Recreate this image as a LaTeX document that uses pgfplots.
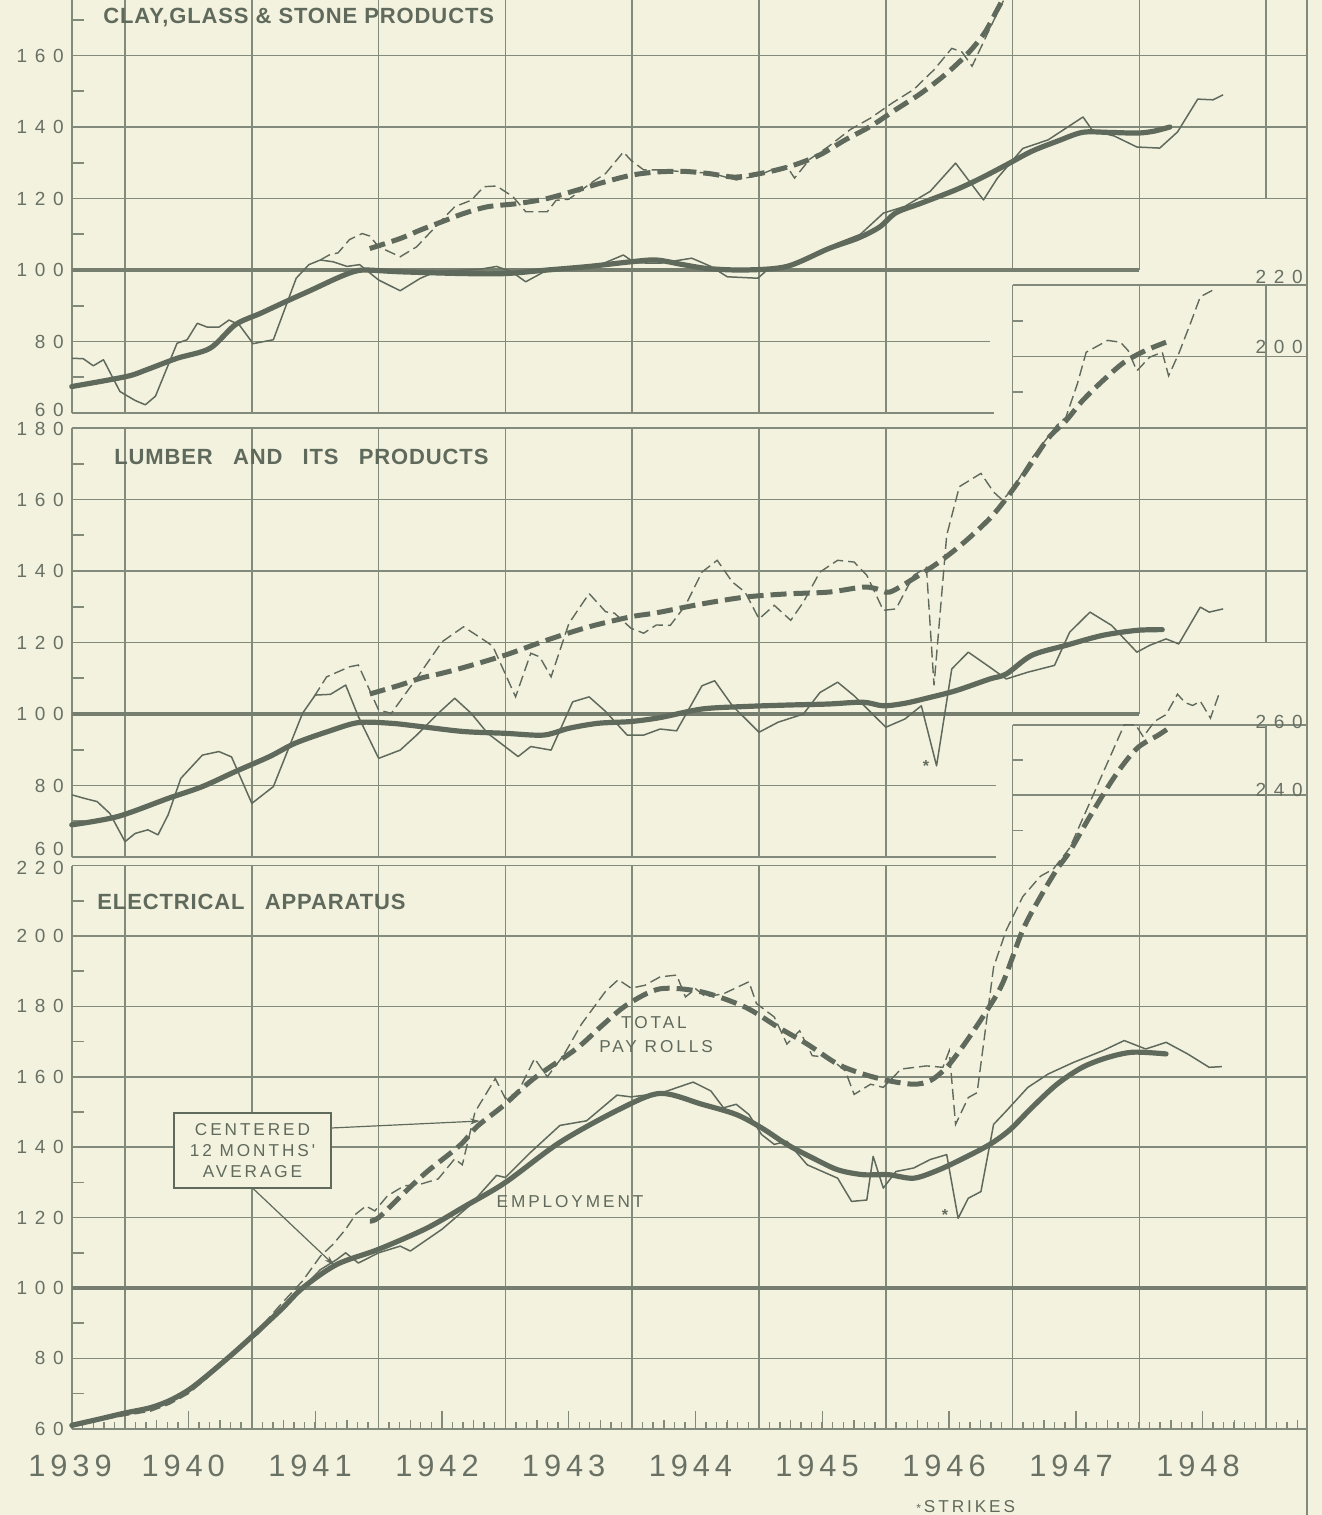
\documentclass[border=0pt]{standalone}
\usepackage{pgfplots}
\pgfplotsset{compat=1.18}
\usetikzlibrary{arrows.meta}
\usepackage{fontspec}
\setmainfont{Liberation Sans}
\newfontfamily\tickf[LetterSpace=40]{Liberation Sans}
\newfontfamily\yearf[LetterSpace=16]{Liberation Sans}
\newfontfamily\smallf[LetterSpace=17]{Liberation Sans}
\newfontfamily\titf[LetterSpace=4]{Liberation Sans}
\definecolor{bg}{RGB}{243,242,223}
\definecolor{ink}{RGB}{96,106,92}
\definecolor{gridc}{RGB}{130,138,124}
\definecolor{hund}{RGB}{118,126,112}
\definecolor{txt}{RGB}{105,113,100}
\pgfplotsset{
 panel/.style={
   x=63.4pt, anchor=south west,
   xmin=1939.5818, xmax=1949.32,
   axis line style={draw=none},
   xtick=\empty,
   ytick style={draw=none},
   yticklabel style={font=\tickf\fontsize{9.5}{10}\selectfont, text=txt, anchor=east, inner sep=0pt, xshift=-4pt},
   clip=false,
 },
 empraw/.style={color=ink, line width=0.75pt, mark=none, line join=round},
 empavg/.style={color=ink, line width=2.6pt, mark=none, smooth, tension=0.5, line cap=round, line join=round},
 payraw/.style={color=ink, line width=0.7pt, mark=none, dash pattern=on 5.5pt off 2.5pt},
 payavg/.style={color=ink, line width=2.5pt, mark=none, smooth, tension=0.5, dash pattern=on 8pt off 3.5pt},
}
\tikzset{gridl/.style={draw=gridc, line width=0.8pt}, hundred/.style={draw=hund, line width=2.3pt}}
\begin{document}
\begin{tikzpicture}
\path[use as bounding box, fill=bg] (0pt,0pt) rectangle (661pt,-757.5pt);

% ================= TOP PANEL: CLAY, GLASS & STONE =================
\begin{axis}[panel, at={(36pt,-206.5pt)}, y=1.7875pt, ymin=60, ymax=175.5,
  ytick={60,80,...,160}, yticklabels={\raisebox{-1.6pt}[0pt][0pt]{60},80,100,120,140,160}]
 \pgfplotsinvokeforeach{1940,...,1946}{\draw[gridl] (axis cs:#1,60) -- (axis cs:#1,175.5);}
 \pgfplotsinvokeforeach{1947,1948}{\draw[gridl] (axis cs:#1,100) -- (axis cs:#1,175.5);}
 \draw[gridl] (axis cs:1949,120) -- (axis cs:1949,175.5);
 \draw[gridl] (axis cs:1939.5818,60) -- (axis cs:1939.5818,175.5);
 \draw[gridl] (axis cs:1939.5818,60) -- (axis cs:1946.85,60);
 \draw[gridl] (axis cs:1939.5818,80) -- (axis cs:1946.82,80);
 \pgfplotsinvokeforeach{120,140,160}{\draw[gridl] (axis cs:1939.5818,#1) -- (axis cs:1949.32,#1);}
 \pgfplotsinvokeforeach{70,90,...,170}{\draw[gridl] (axis cs:1939.5818,#1) -- (axis cs:1939.68,#1);}
 \draw[hundred] (axis cs:1939.5818,100) -- (axis cs:1948,100);
 % employment raw
 \addplot[empraw] coordinates {(1939.58,75.3) (1939.67,75.2) (1939.75,73.2) (1939.83,74.9) (1939.96,66.0) (1940.08,63.5) (1940.16,62.3) (1940.24,64.7) (1940.41,79.5) (1940.49,80.5) (1940.57,85.1) (1940.65,84.0) (1940.74,84.0) (1940.82,86.0) (1940.90,84.7) (1941.01,79.4) (1941.17,80.5) (1941.35,97.7) (1941.45,101.5) (1941.54,102.8) (1941.64,102.3) (1941.75,101.0) (1941.85,101.5) (1942.00,97.2) (1942.17,94.2) (1942.33,97.7) (1942.45,99.5) (1942.60,99.8) (1942.80,100.2) (1942.93,101.0) (1943.05,99.5) (1943.16,96.7) (1943.33,100.0) (1943.55,101.0) (1943.75,101.5) (1943.93,104.2) (1944.02,102.0) (1944.22,101.9) (1944.47,103.3) (1944.62,101.0) (1944.75,98.1) (1944.99,97.7) (1945.08,100.5) (1945.32,101.9) (1945.62,107.5) (1945.80,110) (1945.98,115.9) (1946.15,117.8) (1946.35,122) (1946.55,129.9) (1946.77,119.6) (1946.88,125.7) (1947.08,134.0) (1947.28,136.4) (1947.555,142.8) (1947.63,139.0) (1947.80,137.5) (1947.98,134.4) (1948.16,134.1) (1948.30,138.6) (1948.46,147.8) (1948.58,147.6) (1948.66,149.0)};
 % employment 12-month average
 \addplot[empavg] coordinates {(1939.58,67.4) (1940.01,70.2) (1940.17,72.1) (1940.41,75.3) (1940.67,78.1) (1940.87,84.7) (1941.07,87.9) (1941.27,91.2) (1941.47,94.4) (1941.67,97.7) (1941.80,99.5) (1941.90,100) (1942.17,99.5) (1942.67,99.0) (1943.00,99.0) (1943.33,100) (1943.66,101) (1943.99,102.3) (1944.19,102.8) (1944.40,101.5) (1944.60,100.4) (1944.89,100.0) (1945.22,101.0) (1945.55,106.0) (1945.78,108.9) (1945.95,112.0) (1946.08,116.0) (1946.28,118.7) (1946.55,122.4) (1946.75,125.7) (1946.95,129.4) (1947.15,133.2) (1947.35,136.0) (1947.55,138.5) (1947.75,138.5) (1947.98,138.3) (1948.11,138.8) (1948.24,140.0)};
 % pay rolls raw
 \addplot[payraw] coordinates {(1941.54,102.8) (1941.61,104.2) (1941.68,104.8) (1941.77,108.5) (1941.87,110.2) (1941.93,109.5) (1942.00,106.5) (1942.17,103.7) (1942.30,106.5) (1942.50,114.0) (1942.60,117.7) (1942.73,119.5) (1942.83,123.3) (1942.93,123.5) (1943.06,120.5) (1943.16,116.3) (1943.33,116.3) (1943.40,119.5) (1943.50,119.8) (1943.69,124.7) (1943.79,127.0) (1943.93,133.0) (1943.99,130.7) (1944.09,128.0) (1944.22,128.0) (1944.40,127.5) (1944.62,127.1) (1944.82,125.2) (1944.99,126.4) (1945.10,128.0) (1945.22,129.0) (1945.28,125.7) (1945.40,131) (1945.55,134.6) (1945.72,139.3) (1945.88,142.5) (1946.05,146.7) (1946.22,150.5) (1946.38,156.0) (1946.52,162.0) (1946.60,161) (1946.68,157.0) (1946.80,166) (1946.88,172) (1946.93,175.5)};
 % pay rolls average
 \addplot[payavg] coordinates {(1941.93,106.0) (1942.17,108.8) (1942.33,111.2) (1942.50,113.5) (1942.67,115.8) (1942.86,117.7) (1943.10,118.6) (1943.33,120.0) (1943.56,122.3) (1943.76,124.4) (1943.99,126.5) (1944.19,127.4) (1944.40,127.6) (1944.60,127.0) (1944.82,126.0) (1945.08,127.5) (1945.28,129.4) (1945.48,132.2) (1945.68,136.4) (1945.88,140.2) (1946.08,144.9) (1946.28,149.5) (1946.48,155.0) (1946.65,160.7) (1946.78,166.4) (1946.88,172.9) (1946.92,175.5)};
\end{axis}

% ================= MIDDLE PANEL: LUMBER =================
\begin{axis}[panel, at={(36pt,-428.5pt)}, y=1.7875pt, ymin=60, ymax=222,
  ytick={60,80,...,180}, yticklabels={\raisebox{1pt}[0pt][0pt]{60},80,100,120,140,160,\raisebox{-3.6pt}[0pt][0pt]{180}}]
 \pgfplotsinvokeforeach{1940,...,1946}{\draw[gridl] (axis cs:#1,60) -- (axis cs:#1,180);}
 \pgfplotsinvokeforeach{1947,1948}{\draw[gridl] (axis cs:#1,100) -- (axis cs:#1,220);}
 \draw[gridl] (axis cs:1949,120) -- (axis cs:1949,220);
 \draw[gridl] (axis cs:1939.5818,60) -- (axis cs:1939.5818,180);
 \draw[gridl] (axis cs:1939.5818,60) -- (axis cs:1946.87,60);
 \draw[gridl] (axis cs:1939.5818,80) -- (axis cs:1946.87,80);
 \pgfplotsinvokeforeach{120,140,160,180}{\draw[gridl] (axis cs:1939.5818,#1) -- (axis cs:1949.32,#1);}
 \pgfplotsinvokeforeach{200,220}{\draw[gridl] (axis cs:1947,#1) -- (axis cs:1949.32,#1);}
 \pgfplotsinvokeforeach{70,90,...,170}{\draw[gridl] (axis cs:1939.5818,#1) -- (axis cs:1939.68,#1);}
 \pgfplotsinvokeforeach{190,210}{\draw[gridl] (axis cs:1947,#1) -- (axis cs:1947.08,#1);}
 \draw[hundred] (axis cs:1939.5818,100) -- (axis cs:1948,100);
 \addplot[empraw] coordinates {(1939.58,77.4) (1939.68,76.4) (1939.78,75.5) (1939.88,72.2) (1940.00,64.3) (1940.08,66.6) (1940.18,67.6) (1940.26,66.2) (1940.34,71.8) (1940.44,82.0) (1940.61,88.5) (1940.74,89.5) (1940.84,88.0) (1941.00,75.0) (1941.17,79.7) (1941.40,100.2) (1941.50,105.3) (1941.62,105.5) (1941.74,108.1) (1941.84,99.3) (1942.00,87.6) (1942.17,89.9) (1942.30,94.1) (1942.47,100.2) (1942.60,104.4) (1942.73,100.2) (1942.86,94.6) (1943.10,88.1) (1943.20,90.9) (1943.36,89.9) (1943.53,103.4) (1943.66,104.8) (1943.79,100.7) (1943.96,94.1) (1944.09,94.1) (1944.22,95.8) (1944.35,95.3) (1944.55,107.9) (1944.65,109.3) (1944.79,102.3) (1945.00,94.9) (1945.15,97.7) (1945.35,100.0) (1945.48,106.0) (1945.62,108.9) (1945.75,105.1) (1946.00,96.3) (1946.15,98.6) (1946.28,102.3) (1946.40,85.5) (1946.52,112.6) (1946.65,117.3) (1946.82,113.1) (1946.95,109.8) (1947.12,111.7) (1947.33,113.6) (1947.45,122.9) (1947.61,128.5) (1947.78,124.8) (1947.98,117.3) (1948.08,119.2) (1948.21,121.0) (1948.31,119.6) (1948.48,129.9) (1948.55,128.5) (1948.66,129.4)};
 \addplot[empavg] coordinates {(1939.58,69.0) (1939.94,71.3) (1940.34,76.4) (1940.61,79.7) (1940.87,83.9) (1941.14,88.1) (1941.34,91.8) (1941.60,95.1) (1941.84,97.6) (1942.10,97.4) (1942.33,96.5) (1942.67,95.1) (1943.00,94.6) (1943.30,94.1) (1943.50,96.0) (1943.73,97.4) (1943.99,97.9) (1944.22,99.0) (1944.55,101.4) (1944.89,102.1) (1945.22,102.5) (1945.55,102.8) (1945.82,103.3) (1945.98,102.3) (1946.15,103.0) (1946.32,104.4) (1946.55,106.5) (1946.82,109.8) (1946.95,111.2) (1947.15,116.4) (1947.42,119.2) (1947.71,122.0) (1947.98,123.4) (1948.18,123.6)};
 \addplot[payraw] coordinates {(1941.49,104.8) (1941.59,110.4) (1941.77,113.2) (1941.84,113.7) (1942.00,101.1) (1942.10,100.2) (1942.30,110) (1942.50,120.2) (1942.67,124.4) (1942.83,120.7) (1942.90,119) (1943.08,104.8) (1943.20,117.0) (1943.27,116) (1943.36,110.4) (1943.50,125.3) (1943.66,133.7) (1943.79,128.6) (1943.86,128.2) (1943.99,124.0) (1944.09,122.6) (1944.19,124.9) (1944.30,124.8) (1944.42,130.4) (1944.55,139.7) (1944.67,143.0) (1944.79,136.9) (1944.89,134.1) (1945.00,126.6) (1945.12,130.4) (1945.25,126.2) (1945.35,131.3) (1945.48,139.7) (1945.62,143.0) (1945.75,142.5) (1945.85,138.8) (1945.98,129.0) (1946.08,129.4) (1946.22,138.8) (1946.32,141) (1946.38,108.0) (1946.48,150) (1946.58,163.6) (1946.75,167.3) (1946.85,162.1) (1946.92,159.8) (1947.00,163) (1947.15,171.5) (1947.35,180.8) (1947.42,183) (1947.51,192.3) (1947.58,201.2) (1947.75,204.5) (1947.85,204.0) (1947.91,201.7) (1947.98,196.0) (1948.08,199.8) (1948.18,201.2) (1948.23,194.6) (1948.31,200.8) (1948.41,210.0) (1948.48,216.7) (1948.58,218.6)};
 \addplot[payavg] coordinates {(1941.93,105.6) (1942.17,108.1) (1942.33,110.0) (1942.50,111.4) (1942.67,113.0) (1943.00,116.5) (1943.33,120.7) (1943.66,124.4) (1943.99,127.2) (1944.19,128.3) (1944.55,130.8) (1944.89,132.7) (1945.22,133.6) (1945.55,134.1) (1945.82,135.5) (1945.93,135.0) (1946.03,134.1) (1946.22,137.9) (1946.42,142.5) (1946.62,148.1) (1946.82,154.7) (1946.95,160.3) (1947.12,168.7) (1947.28,177.1) (1947.42,182.0) (1947.55,187.6) (1947.71,193.2) (1947.88,198.4) (1948.05,201.7) (1948.21,204.0)};
\end{axis}

% ================= BOTTOM PANEL: ELECTRICAL APPARATUS =================
\begin{axis}[panel, at={(36pt,-714.4pt)}, y=1.76pt, ymin=60, ymax=270,
  ytick={60,80,...,220}, yticklabels={60,80,100,120,140,160,180,200,\raisebox{-4.6pt}[0pt][0pt]{220}},
  xtick={1939.75,1940.25,...,1949.25},
  minor xtick={1939.6667,1939.75,...,1949.26},
  extra x ticks={1940.5,1941.5,...,1948.5},
  extra x tick style={major tick length=9pt},
  xticklabels={}, extra x tick labels={},
  tick align=inside, xtick pos=left, ytick pos=left,
  major tick length=4.5pt, minor tick length=3.2pt,
  xtick style={draw=gridc, line width=0.7pt},
  minor tick style={draw=gridc, line width=0.7pt}]
 \pgfplotsinvokeforeach{1940,...,1946}{\draw[gridl] (axis cs:#1,60) -- (axis cs:#1,220);}
 \pgfplotsinvokeforeach{1947,1948,1949}{\draw[gridl] (axis cs:#1,60) -- (axis cs:#1,260);}
 \draw[gridl] (axis cs:1939.5818,60) -- (axis cs:1939.5818,220);
 \pgfplotsinvokeforeach{60,80,120,140,160,180,200,220}{\draw[gridl] (axis cs:1939.5818,#1) -- (axis cs:1949.32,#1);}
 \pgfplotsinvokeforeach{240,260}{\draw[gridl] (axis cs:1947,#1) -- (axis cs:1949.32,#1);}
 \pgfplotsinvokeforeach{70,90,...,210}{\draw[gridl] (axis cs:1939.5818,#1) -- (axis cs:1939.68,#1);}
 \pgfplotsinvokeforeach{230,250}{\draw[gridl] (axis cs:1947,#1) -- (axis cs:1947.08,#1);}
 \draw[hundred] (axis cs:1939.5818,100) -- (axis cs:1949.32,100);
 \addplot[empraw] coordinates {(1939.58,61.4) (1939.80,63) (1940.00,64.2) (1940.20,65.5) (1940.35,67.5) (1940.50,70.5) (1940.65,75.0) (1940.89,82.6) (1941.05,87) (1941.22,93.5) (1941.40,100) (1941.54,105.2) (1941.67,108.1) (1941.74,110.0) (1941.84,107.1) (1942.00,110.0) (1942.17,111.9) (1942.25,110.5) (1942.50,116.7) (1942.72,123.5) (1942.93,132.0) (1943.00,131.4) (1943.20,138.6) (1943.43,146.2) (1943.64,147.5) (1943.88,154.8) (1943.99,154.3) (1944.22,155.3) (1944.48,158.5) (1944.62,156.0) (1944.72,151.2) (1944.82,152.2) (1944.92,149.3) (1945.02,143.6) (1945.12,140.8) (1945.22,141.7) (1945.38,135.0) (1945.62,131.2) (1945.73,124.6) (1945.85,125.0) (1945.90,137.4) (1945.98,128.4) (1946.08,133.1) (1946.22,134.1) (1946.35,136.5) (1946.48,137.9) (1946.57,119.8) (1946.65,125.5) (1946.75,127.4) (1946.85,146.5) (1946.95,150.3) (1947.12,157.0) (1947.28,160.8) (1947.48,164.1) (1947.71,167.4) (1947.88,170.3) (1948.05,167.9) (1948.21,169.8) (1948.38,166.5) (1948.55,162.7) (1948.65,162.9)};
 \addplot[empavg] coordinates {(1939.58,61.0) (1939.80,62.8) (1940.00,64.5) (1940.20,66.0) (1940.35,68) (1940.50,71) (1940.65,75.2) (1940.89,82.6) (1941.22,93.5) (1941.40,100.0) (1941.67,106.7) (1942.00,111.0) (1942.38,117.0) (1942.67,123.0) (1943.00,130.0) (1943.43,141.4) (1943.90,150.8) (1944.22,155.3) (1944.55,152.2) (1944.82,149.3) (1945.02,145.5) (1945.22,140.8) (1945.42,137.0) (1945.62,133.6) (1945.82,132.2) (1946.02,132.2) (1946.22,131.2) (1946.42,133.6) (1946.62,137.0) (1946.82,140.8) (1946.98,145.0) (1947.15,151.2) (1947.35,157.9) (1947.55,162.7) (1947.75,165.5) (1947.95,167.0) (1948.21,166.5)};
 \addplot[payraw] coordinates {(1939.58,60.5) (1939.80,62.5) (1940.00,63.8) (1940.20,65) (1940.35,67) (1940.50,70) (1940.65,74.5) (1940.89,82.6) (1941.05,88) (1941.22,95) (1941.40,102) (1941.54,109.0) (1941.64,112.4) (1941.74,116.7) (1941.82,121) (1941.90,123.3) (1941.97,121.9) (1942.07,126.2) (1942.20,129.0) (1942.33,129.5) (1942.47,131.0) (1942.60,136.7) (1942.66,135) (1942.76,150.0) (1942.92,159.5) (1943.00,153.8) (1943.10,155.7) (1943.23,165.2) (1943.33,160.0) (1943.46,166.2) (1943.60,175) (1943.79,184.3) (1943.89,187.6) (1943.99,185.2) (1944.10,186) (1944.22,188.4) (1944.35,188.9) (1944.42,182.7) (1944.50,185) (1944.58,182.7) (1944.72,183.6) (1944.92,187.0) (1944.98,180.8) (1945.12,177.0) (1945.22,169.3) (1945.32,173.1) (1945.42,166) (1945.55,165.5) (1945.68,161.7) (1945.75,155.0) (1945.88,157.9) (1945.98,157.0) (1946.12,162.2) (1946.32,163.1) (1946.45,162.7) (1946.50,167.4) (1946.55,146.5) (1946.65,154.1) (1946.72,155.5) (1946.85,191.2) (1946.95,201.7) (1947.08,211.2) (1947.22,217.0) (1947.32,219.0) (1947.45,225) (1947.61,238.0) (1947.75,249.4) (1947.88,260.0) (1947.97,260) (1948.03,256.6) (1948.12,261) (1948.21,262.9) (1948.30,268.7) (1948.36,266.3) (1948.42,265.5) (1948.48,266.7) (1948.56,261.9) (1948.63,269)};
 \addplot[payavg] coordinates {(1941.93,119.0) (1942.00,120.0) (1942.20,127.0) (1942.38,133.0) (1942.64,140.5) (1942.78,146.0) (1942.98,151.7) (1943.22,159.4) (1943.56,168.0) (1943.76,174.5) (1943.96,180.5) (1944.22,185.0) (1944.55,184.1) (1944.89,179.8) (1945.15,174.1) (1945.38,169.3) (1945.62,163.6) (1945.82,160.8) (1946.02,158.9) (1946.22,157.9) (1946.35,158.9) (1946.48,162.7) (1946.62,169.3) (1946.78,177.9) (1946.92,186.5) (1947.08,201.7) (1947.22,211.2) (1947.35,219) (1947.45,224) (1947.61,234.0) (1947.81,245.6) (1947.98,253.3) (1948.15,257.1) (1948.25,259.5)};
\end{axis}

% right border spanning the whole sheet
\draw[gridl, line width=1pt] (653.5pt,0pt) -- (653.5pt,-757.5pt);

% panel titles
\node[anchor=west, text=ink, font=\titf\bfseries\fontsize{11}{12}\selectfont, inner sep=0pt] at (51.5pt,-9pt) {CLAY,GLASS \& STONE PRODUCTS};
\node[anchor=west, text=ink, font=\titf\bfseries\fontsize{11}{12}\selectfont, inner sep=0pt] at (57pt,-228.5pt) {LUMBER\hspace{0.6em} AND\hspace{0.6em} ITS\hspace{0.6em} PRODUCTS};
\node[anchor=west, text=ink, font=\titf\bfseries\fontsize{11}{12}\selectfont, inner sep=0pt] at (48.5pt,-451pt) {ELECTRICAL\hspace{0.6em} APPARATUS};

% right-hand scale labels
\foreach \lab/\yy in {220/-138.5, 200/-173.5, 260/-361, 240/-395}
  \node[anchor=east, text=txt, font=\tickf\fontsize{9.5}{10}\selectfont, inner sep=0pt] at (651.5pt,\yy pt) {\lab};

% year labels
\foreach \lab/\xx in {1939/35, 1940/91.6, 1941/155, 1942/218.5, 1943/281.8, 1944/345.2, 1945/408.5, 1946/472, 1947/535.5, 1948/599}
  \node[text=txt, font=\yearf\fontsize{15.4}{16}\selectfont, inner sep=0pt] at (\xx pt,-733pt) {\lab};

% annotations
\node[draw=ink, line width=0.7pt, fill=bg, minimum width=78.5pt, minimum height=37.5pt, align=center, inner sep=1pt,
      text=ink, font=\smallf\fontsize{8.6}{10.5}\selectfont] (box) at (126.25pt,-575.25pt) {CENTERED\\12 MONTHS'\\AVERAGE};
\draw[ink, line width=0.6pt, -{Stealth[length=5pt,width=3pt]}] (165.5pt,-564pt) -- (240pt,-560.5pt);
\draw[ink, line width=0.6pt, -{Stealth[length=5pt,width=3pt]}] (126.25pt,-594pt) -- (167pt,-632.5pt);
\node[text=ink, font=\smallf\fontsize{8.6}{10}\selectfont, inner sep=0pt] at (327pt,-511.5pt) {TOTAL};
\node[text=ink, font=\smallf\fontsize{8.6}{10}\selectfont, inner sep=0pt] at (328pt,-523.5pt) {PAY ROLLS};
\node[text=ink, font=\smallf\fontsize{8.6}{10}\selectfont, inner sep=0pt] at (285pt,-601pt) {EMPLOYMENT};
\node[text=ink, font=\bfseries\fontsize{8}{8}\selectfont, inner sep=0pt] at (463pt,-383pt) {*};
\node[text=ink, font=\bfseries\fontsize{8}{8}\selectfont, inner sep=0pt] at (472.5pt,-607.5pt) {*};
\node[anchor=west, text=ink, font=\smallf\fontsize{8.6}{10}\selectfont, inner sep=0pt] at (458pt,-753.5pt) {{\fontsize{6}{6}\selectfont *}\,STRIKES};
\end{tikzpicture}
\end{document}
